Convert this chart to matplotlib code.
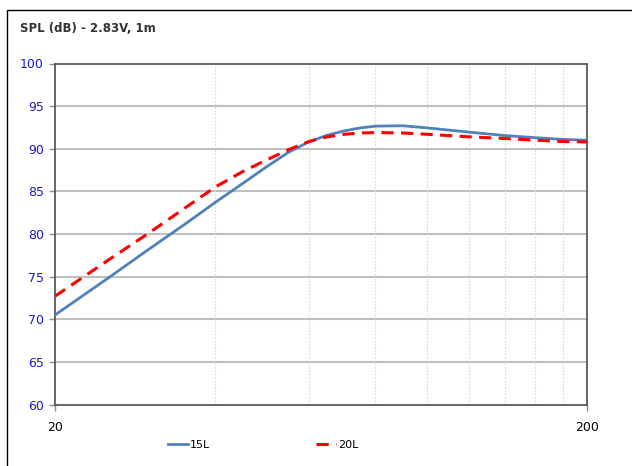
import matplotlib
matplotlib.use("Agg")
import matplotlib.pyplot as plt
from matplotlib.patches import Rectangle
from matplotlib.ticker import FixedLocator, NullLocator

# Частоты (Гц) и уровни SPL (дБ)
freq = [20, 25, 30, 35, 40, 45, 50, 55, 60, 65, 70, 75, 80, 90,
        100, 120, 140, 160, 180, 200]
spl_15l = [70.5, 74.7, 78.2, 81.1, 83.7, 85.9, 87.9, 89.6, 90.8, 91.6,
           92.1, 92.45, 92.65, 92.7, 92.45, 91.95, 91.55, 91.3, 91.1, 91.0]
spl_20l = [72.7, 76.8, 80.1, 83.0, 85.5, 87.3, 88.7, 89.9, 90.85, 91.4,
           91.7, 91.85, 91.9, 91.85, 91.7, 91.4, 91.2, 91.0, 90.85, 90.8]

y_ticks = [60, 65, 70, 75, 80, 85, 90, 95, 100]
x_ticks = [20, 200]
x_grid = [40, 60, 80, 100, 120, 140, 160, 180]

fig = plt.figure(figsize=(6.32, 4.66), dpi=100)
ax = fig.add_axes([55 / 632, 1 - 404.5 / 466, 532 / 632, 341 / 466])

# Рамка вокруг всей картинки
fig.patches.append(Rectangle((7 / 632, -0.5), 5, 0.5 + 1 - 10 / 466,
                             transform=fig.transFigure, fill=False,
                             edgecolor="black", linewidth=1))

ax.plot(freq, spl_15l, color="#4F81BD", linewidth=2, label="15L", zorder=3)
ax.plot(freq, spl_20l, color="#FF0000", linewidth=2.2, dashes=(4, 2.4),
        label="20L", zorder=4)

ax.set_xscale("log")
ax.set_xlim(20, 200)
ax.set_ylim(60, 100)

ax.xaxis.set_major_locator(FixedLocator(x_ticks))
ax.xaxis.set_minor_locator(NullLocator())
ax.set_xticklabels([str(v) for v in x_ticks])
ax.set_yticks(y_ticks)
ax.set_yticklabels([str(v) for v in y_ticks])

# Сетка
for y in y_ticks[1:-1]:
    ax.axhline(y, color="#BFBFBF", linewidth=1.5, zorder=1)
for x in x_grid:
    ax.axvline(x, color="#D6D6D6", linewidth=0.8, linestyle=(0, (1.5, 1.5)),
               zorder=1)

for s in ax.spines.values():
    s.set_color("#595959")
    s.set_linewidth(1.3)

ax.tick_params(axis="y", colors="#8c8c8c", labelcolor="#1a1acc",
               labelsize=9, length=4, width=1, pad=4)
ax.tick_params(axis="x", colors="#8c8c8c", labelcolor="black",
               labelsize=9, length=4, width=1, pad=8)

fig.text(20 / 632, 1 - 29 / 466, "SPL (dB) - 2.83V, 1m", fontsize=8.5,
         fontweight="bold", color="#333333", va="center", ha="left")

fig.legend(loc="center", bbox_to_anchor=(263 / 632, 1 - 445 / 466), ncol=2,
           frameon=False, fontsize=8, handlelength=1.8, handletextpad=0.2,
           columnspacing=9.5)

fig.savefig("out.png", dpi=100)
